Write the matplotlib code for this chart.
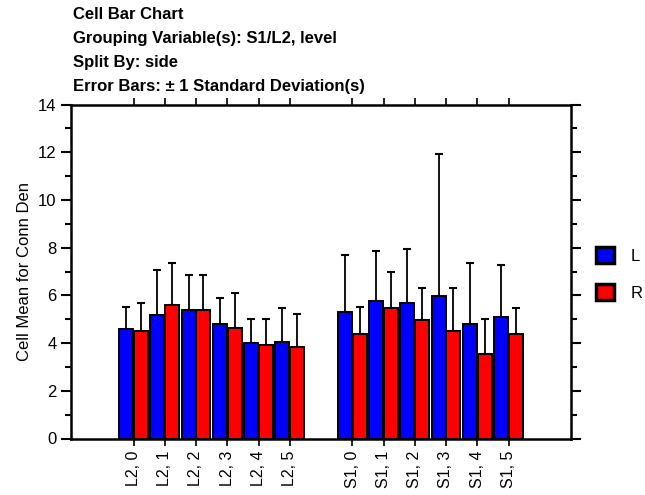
import numpy as np
import matplotlib.pyplot as plt
from matplotlib.patches import Patch
from matplotlib.ticker import MultipleLocator, FixedLocator

plt.rcParams['font.family'] = ['Liberation Sans', 'DejaVu Sans']

# categorias y valores (media y desviacion estandar)
categorias = ["L2, 0", "L2, 1", "L2, 2", "L2, 3", "L2, 4", "L2, 5",
              "S1, 0", "S1, 1", "S1, 2", "S1, 3", "S1, 4", "S1, 5"]
media_L = [4.59, 5.16, 5.39, 4.80, 4.00, 4.06,
           5.31, 5.75, 5.69, 5.97, 4.80, 5.09]
media_R = [4.51, 5.60, 5.39, 4.64, 3.92, 3.85,
           4.37, 5.46, 4.95, 4.51, 3.55, 4.37]
de_L = [0.92, 1.89, 1.45, 1.10, 1.01, 1.40,
        2.39, 2.11, 2.24, 5.97, 2.56, 2.19]
de_R = [1.17, 1.76, 1.45, 1.47, 1.09, 1.38,
        1.15, 1.52, 1.37, 1.81, 1.47, 1.09]

titulo = ["Cell Bar Chart",
          "Grouping Variable(s): S1/L2, level",
          "Split By: side",
          "Error Bars: \u00b1 1 Standard Deviation(s)"]

# posiciones: dos grupos de 6 con un hueco en medio
pos = np.array(list(range(6)) + list(range(7, 13)), dtype=float)
ancho = 0.45

fig = plt.figure(figsize=(6.45, 4.95), dpi=100)
ax = fig.add_axes([71 / 645, 56.5 / 495, 500 / 645, 334 / 495])

ax.bar(pos - ancho / 2 - 0.01, media_L, ancho, color="#0000ff",
       edgecolor="black", linewidth=1.4, zorder=2)
ax.bar(pos + ancho / 2 + 0.01, media_R, ancho, color="#ff0000",
       edgecolor="black", linewidth=1.4, zorder=2)

# barras de error solo hacia arriba
ax.errorbar(pos - ancho / 2 - 0.01, media_L, yerr=[np.zeros(12), de_L],
            fmt="none", ecolor="black", elinewidth=1.3, capsize=3,
            capthick=1.5, zorder=1)
ax.errorbar(pos + ancho / 2 + 0.01, media_R, yerr=[np.zeros(12), de_R],
            fmt="none", ecolor="black", elinewidth=1.3, capsize=3,
            capthick=1.5, zorder=1)

ax.set_xlim(-2, 14)
ax.set_ylim(0, 14)
ax.yaxis.set_major_locator(MultipleLocator(2))
ax.yaxis.set_minor_locator(MultipleLocator(1))
ax.xaxis.set_major_locator(FixedLocator(pos))
ax.set_xticklabels(categorias, rotation=90, fontsize=11.5)
ax.tick_params(axis="y", which="major", length=7, width=1.5, labelsize=12,
               right=True, direction="out")
ax.tick_params(axis="y", which="minor", length=4, width=1.5, right=True,
               direction="out")
ax.tick_params(axis="x", which="major", length=5, width=1.2, top=True,
               direction="out")
for s in ax.spines.values():
    s.set_linewidth(1.8)

ax.set_ylabel("Cell Mean for Conn Den", fontsize=12)

# titulo en varias lineas
for i, linea in enumerate(titulo):
    fig.text(73 / 645, 1 - (19 + 24 * i) / 495, linea, fontsize=12,
             fontweight="bold", va="baseline", ha="left")

handles = [Patch(facecolor="#0000ff", edgecolor="black", linewidth=2.5, label="L"),
           Patch(facecolor="#ff0000", edgecolor="black", linewidth=2.5, label="R")]
fig.legend(handles=handles, loc="center left",
           bbox_to_anchor=(581 / 645, 1 - 274 / 495), frameon=False,
           fontsize=12, handlelength=1.1, handleheight=1.1,
           labelspacing=1.25, handletextpad=1.0)

fig.savefig("out.png", dpi=100)
